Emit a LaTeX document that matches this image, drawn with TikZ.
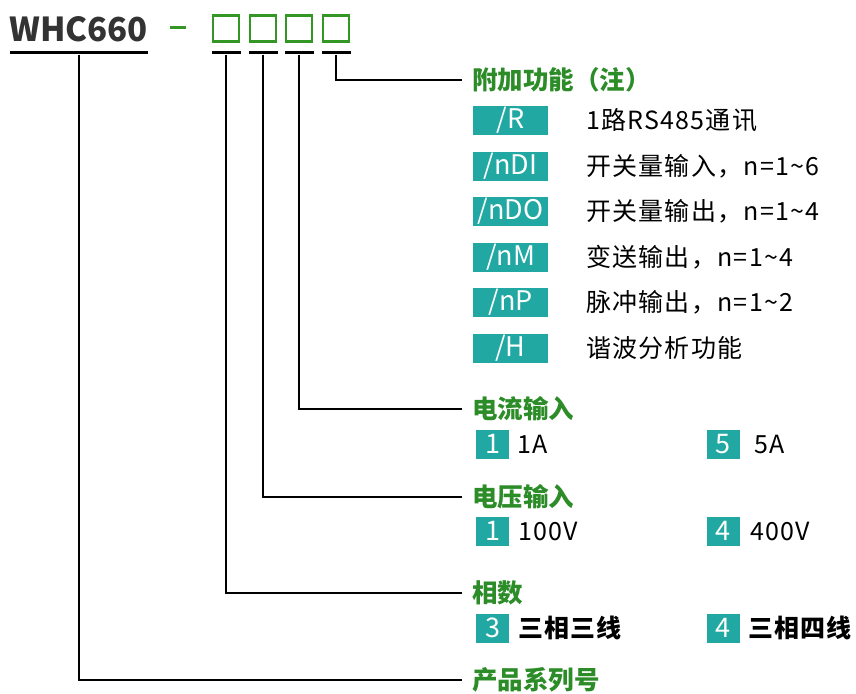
\documentclass[tikz,border=0pt]{standalone}
\usepackage{fontspec}
\setmainfont{Noto Sans CJK SC}

\definecolor{tealbox}{RGB}{33,168,163}
\definecolor{headgreen}{RGB}{44,140,40}
\definecolor{sqgreen}{RGB}{52,150,36}
\definecolor{darktext}{RGB}{51,51,51}

\begin{document}
\begin{tikzpicture}[x=1pt, y=-1pt,
	sq/.style={draw=sqgreen, line width=2.2pt, minimum size=26pt, inner sep=0pt},
	bar/.style={fill=black, minimum height=3pt, inner sep=0pt},
	head/.style={anchor=west, inner sep=0pt, inner xsep=10pt, text=headgreen, font=\fontsize{25.5}{29}\selectfont\bfseries},
	fbox/.style={fill=tealbox, text=white, minimum width=75pt, minimum height=29pt, inner sep=0pt, font=\fontsize{27}{30}\selectfont},
	nbox/.style={fill=tealbox, text=white, minimum width=33pt, minimum height=29pt, inner sep=0pt, font=\fontsize{27}{30}\selectfont},
	desc/.style={anchor=west, inner sep=0pt, font=\fontsize{25}{29}\selectfont\addfontfeature{LetterSpace=5}},
	link/.style={line width=1.6pt}]
		\useasboundingbox (0,0) rectangle (856,693);

		% 型号
		\node[anchor=west, inner sep=0pt, text=darktext, font=\fontsize{33}{36}\selectfont\bfseries] (M) at (9,29) {WHC660};
		\node[fill=sqgreen, minimum width=16pt, minimum height=3pt, inner sep=0pt] (D) at (178,28) {};
		\node[sq] (S1) at (226,28.5) {};
		\node[sq] (S2) at (263,28.5) {};
		\node[sq] (S3) at (299,28.5) {};
		\node[sq] (S4) at (336,28.5) {};

		\node[bar, minimum width=138pt] (U0) at (79,53) {};
		\node[bar, minimum width=29pt] (U1) at (226,53) {};
		\node[bar, minimum width=29pt] (U2) at (263,53) {};
		\node[bar, minimum width=29pt] (U3) at (299,53) {};
		\node[bar, minimum width=29pt] (U4) at (336,53) {};

		% 各项标题
		\node[head] (F) at (462,80) {附加功能（注）};
		\node[head] (I) at (462,409) {电流输入};
		\node[head] (V) at (462,497) {电压输入};
		\node[head] (P) at (462,593) {相数};
		\node[head] (N) at (462,680) {产品系列号};

		\draw[link] (U4.south) |- (F.west);
		\draw[link] (U3.south) |- (I.west);
		\draw[link] (U2.south) |- (V.west);
		\draw[link] (U1.south) |- (P.west);
		\draw[link] (U0.south) |- (N.west);

		% 附加功能
		\node[fbox] (R) at (510.5,120.5) {/R};
		\node[fbox] (DI) at (510.5,166) {/nDI};
		\node[fbox] (DO) at (510.5,211.5) {/nDO};
		\node[fbox] (MO) at (510.5,257) {/nM};
		\node[fbox] (PO) at (510.5,302.5) {/nP};
		\node[fbox] (H) at (510.5,348) {/H};

		\node[desc] at (586,120.5) {1路RS485通讯};
		\node[desc] at (586,166) {开关量输入，n=1\textasciitilde6};
		\node[desc] at (586,211.5) {开关量输出，n=1\textasciitilde4};
		\node[desc] at (586,257) {变送输出，n=1\textasciitilde4};
		\node[desc] at (586,302.5) {脉冲输出，n=1\textasciitilde2};
		\node[desc] at (586,348) {谐波分析功能};

		% 电流输入
		\node[nbox] (I1) at (492.5,444) {1};
		\node[desc] at (517,444) {1A};
		\node[nbox] (I5) at (723,444) {5};
		\node[desc] at (754,444) {5A};

		% 电压输入
		\node[nbox] (V1) at (492.5,531) {1};
		\node[desc] at (518,531) {100V};
		\node[nbox] (V4) at (723,531) {4};
		\node[desc] at (750,531) {400V};

		% 相数
		\node[nbox] (P3) at (492.5,628) {3};
		\node[desc] at (518,628) {\bfseries 三相三线};
		\node[nbox] (P4) at (723,628) {4};
		\node[desc] at (748,628) {\bfseries 三相四线};
	\end{tikzpicture}
\end{document}
